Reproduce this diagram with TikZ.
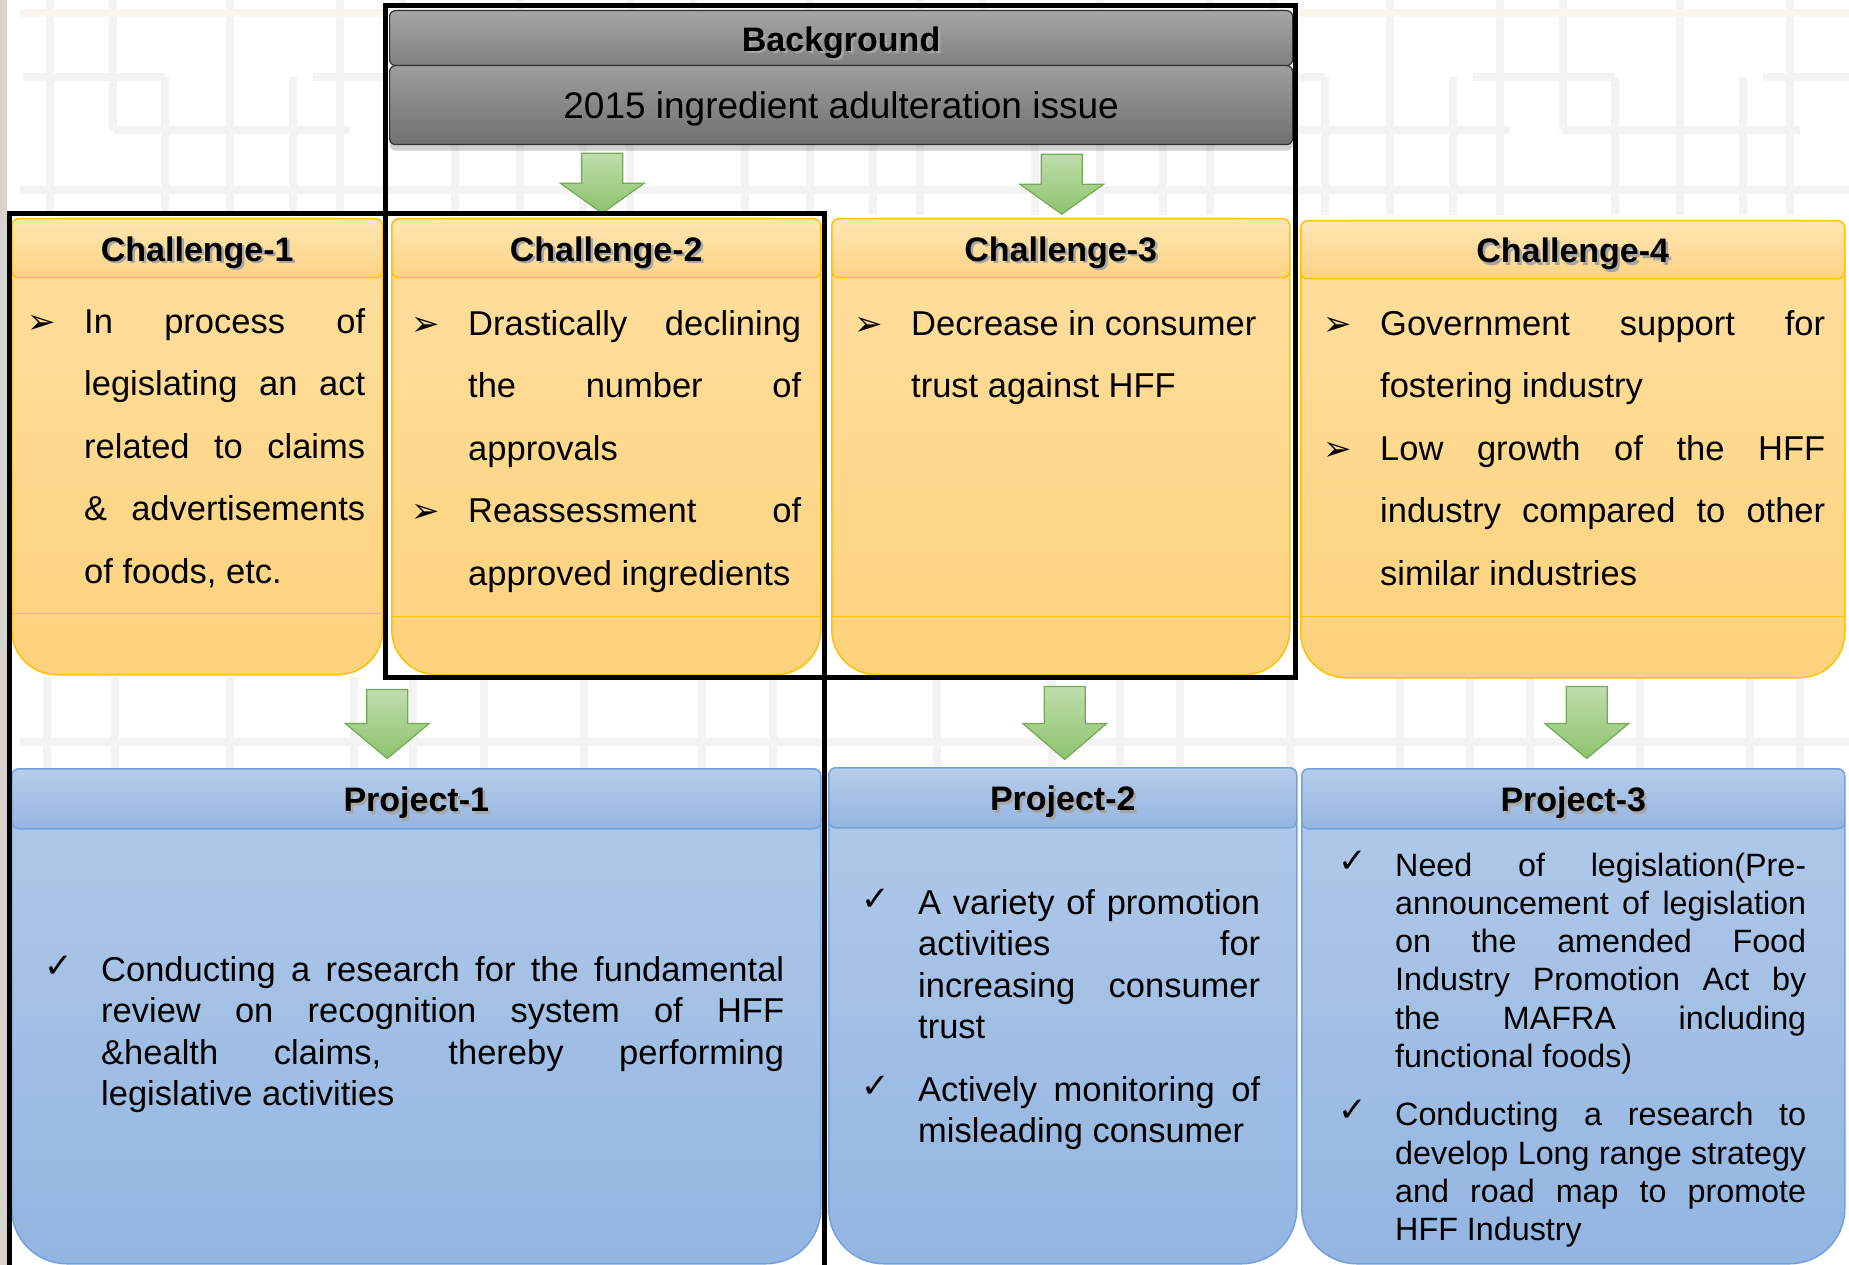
\documentclass[tikz,border=0pt]{standalone}
\usepackage{fontspec}
\setmainfont{Liberation Sans}
\newfontfamily\symfont{DejaVu Sans}
\usetikzlibrary{calc,shadows}

\definecolor{chgold}{HTML}{FFC000}
\definecolor{chtop}{HTML}{FEDFA0}
\definecolor{chbot}{HTML}{FDD27C}
\definecolor{chheadtop}{HTML}{FEE6B3}
\definecolor{chheadbot}{HTML}{FDD383}
\definecolor{prline}{HTML}{72A1DB}
\definecolor{prtop}{HTML}{B2CAE9}
\definecolor{prbot}{HTML}{93B5E1}
\definecolor{prheadtop}{HTML}{B6CDEB}
\definecolor{prheadbot}{HTML}{95B5E0}
\definecolor{bgtop}{HTML}{A6A6A6}
\definecolor{bgmid}{HTML}{808080}
\definecolor{bgbot}{HTML}{707070}
\definecolor{bgline}{HTML}{303030}
\definecolor{arrtop}{HTML}{BFDDAC}
\definecolor{arrbot}{HTML}{8CC36C}
\definecolor{arrline}{HTML}{73AA55}
\definecolor{latgray}{HTML}{F4F3F3}
\definecolor{latbeige}{HTML}{FAF6EE}
\definecolor{leftstrip}{HTML}{D6D3D0}

\newcommand{\headfont}{\fontsize{34}{40}\selectfont\bfseries}
\newcommand{\issuefont}{\fontsize{37}{44}\selectfont}
\newcommand{\chfont}{\fontsize{34.5}{62.5}\selectfont}
\newcommand{\prfont}{\fontsize{34.5}{41.5}\selectfont}
\newcommand{\prsmallfont}{\fontsize{32.3}{38.3}\selectfont}
% text with a soft offset shadow
\newcommand{\shd}[1]{\makebox[0pt][l]{\kern2.5pt\raisebox{-2.5pt}{\textcolor{black!35}{#1}}}#1}
\newcommand{\arrowmark}{{\symfont\fontsize{34}{34}\selectfont\symbol{"27A2}}}
\newcommand{\tickmark}{\raisebox{4pt}{\symfont\fontsize{34}{34}\selectfont\symbol{"2713}}}
% one bullet paragraph with hanging indent
\newcommand{\boxitem}[2]{\noindent\hangindent=57pt\hangafter=1\makebox[57pt][l]{#1}#2\par}

\begin{document}
\begin{tikzpicture}[x=1pt, y=-1pt,
    every node/.style={inner sep=0pt},
    lattice/.style={draw=latgray, line width=8pt},
    bghead/.style={draw=bgline, line width=1.2pt, rounded corners=6pt, top color=bgtop, bottom color=bgmid, anchor=north west, font=\headfont, text height=26pt, text depth=0pt},
    bgbody/.style={bghead, top color=bgtop!95!black, bottom color=bgbot, font=\issuefont},
    chbody/.style={draw=chgold, line width=1.5pt, rounded corners=45pt, top color=chtop, bottom color=chbot, anchor=north west},
    chhead/.style={draw=chgold, line width=1.5pt, rounded corners=7pt, top color=chheadtop, bottom color=chheadbot, anchor=north west, font=\headfont, text height=26pt, text depth=0pt},
    chline/.style={draw=chgold, line width=1.5pt},
    prbody/.style={chbody, draw=prline, rounded corners=55pt, top color=prtop, bottom color=prbot},
    prhead/.style={chhead, draw=prline, top color=prheadtop, bottom color=prheadbot},
    itemtext/.style={anchor=base west, text width=#1, align=justify},
    greenarrow/.style={draw=arrline, line width=1.2pt, top color=arrtop, bottom color=arrbot},
    frame/.style={draw=black, line width=5pt},
    pics/downarrow/.style 2 args={code={
      \path[greenarrow] (-20.5,0) -- (-20.5,#2) -- (-42,#2) -- (0,#1) -- (42,#2) -- (20.5,#2) -- (20.5,0) -- cycle;
    }}
  ]
  \useasboundingbox (0,0) rectangle (1849,1265);
  \fill[white] (0,0) rectangle (1849,1265);

  % faint window lattice behind everything
  \fill[leftstrip] (0,0) rectangle (7,1265);
  \foreach \o in {0,290,...,1740} {
    \draw[lattice] (\o+50,0) -- (\o+50,215) (\o+230,0) -- (\o+230,215)
      (\o+113,0) -- (\o+113,130) (\o+165,77) -- (\o+165,215) (\o+293,77) -- (\o+293,215)
      (\o+23,77) -- (\o+165,77) (\o+113,130) -- (\o+350,130);
  }
  \draw[lattice] (20,190) -- (1849,190);
  \draw[lattice, draw=latbeige] (20,13) -- (1849,13);
  \foreach \x in {47,115,230,354,413,484,584,702,773,937,1052,1120,1180,1290,1400,1470,1530,1640,1750,1800}
    \draw[lattice] (\x,677) -- (\x,768);
  \draw[lattice] (20,742) -- (1849,742);

  % background
  \node[bghead, minimum width=903pt, minimum height=55pt] (bg) at (389,10) {\shd{Background}};
  \node[bgbody, minimum width=903pt, minimum height=79pt,
        drop shadow={shadow xshift=0pt, shadow yshift=-6pt, opacity=.3, fill=black!60}] (issue) at (389,65) {2015 ingredient adulteration issue};

  % challenges
  \node[chbody, minimum width=371pt, minimum height=456pt] (c1) at (11,218) {};
  \node[chhead, minimum width=371pt, minimum height=59pt] (c1h) at (c1.north west) {\shd{Challenge-1}};
  \draw[chline] (c1.south west) ++(0,-62) -- ++(371,0);

  \node[chbody, minimum width=429pt, minimum height=456pt] (c2) at (391,218) {};
  \node[chhead, minimum width=429pt, minimum height=59pt] (c2h) at (c2.north west) {\shd{Challenge-2}};
  \draw[chline] (c2.south west) ++(0,-59) -- ++(429,0);

  \node[chbody, minimum width=458pt, minimum height=456pt] (c3) at (831,218) {};
  \node[chhead, minimum width=458pt, minimum height=59pt] (c3h) at (c3.north west) {\shd{Challenge-3}};
  \draw[chline] (c3.south west) ++(0,-59) -- ++(458,0);

  \node[chbody, minimum width=544pt, minimum height=457pt] (c4) at (1300,220) {};
  \node[chhead, minimum width=544pt, minimum height=58pt] (c4h) at (c4.north west) {\shd{Challenge-4}};
  \draw[chline] (c4.south west) ++(0,-62) -- ++(544,0);

  % projects
  \node[prbody, minimum width=809pt, minimum height=495pt] (p1) at (11,768) {};
  \node[prhead, minimum width=809pt, minimum height=60pt] (p1h) at (p1.north west) {\shd{Project-1}};
  \node[prbody, minimum width=468pt, minimum height=496pt] (p2) at (828,767) {};
  \node[prhead, minimum width=468pt, minimum height=60pt] (p2h) at (p2.north west) {\shd{Project-2}};
  \node[prbody, minimum width=543pt, minimum height=495pt] (p3) at (1301,768) {};
  \node[prhead, minimum width=543pt, minimum height=60pt] (p3h) at (p3.north west) {\shd{Project-3}};

  % arrows
  \path (c2.north |- issue.south) ++(-4,8) pic {downarrow={60}{30}};
  \path (c3.north |- issue.south) ++(1,9) pic {downarrow={60}{30}};
  \path ($(c1.south east)!.5!(c2.south west)$) ++(0,14) pic {downarrow={69}{34}};
  \path (c3.south) ++(4,11) pic {downarrow={73}{37}};
  \path (c4.south) ++(14,8) pic {downarrow={72}{37}};

  % texts
  \node[itemtext=338pt, font=\chfont] (c1txt) at (27,333) {%
    \boxitem{\arrowmark}{In process of\linebreak legislating an act\linebreak related to claims\linebreak \& advertisements\linebreak of foods, etc.}};
  \node[itemtext=390pt, font=\chfont] (c2txt) at (411,335) {%
    \boxitem{\arrowmark}{Drastically declining\linebreak the number of\linebreak approvals}
    \boxitem{\arrowmark}{Reassessment of\linebreak approved ingredients}};
  \node[itemtext=410pt, font=\chfont] (c3txt) at (854,335) {%
    \boxitem{\arrowmark}{Decrease in consumer\newline trust against HFF}};
  \node[itemtext=502pt, font=\chfont] (c4txt) at (1323,335) {%
    \boxitem{\arrowmark}{Government support for\linebreak fostering industry}
    \boxitem{\arrowmark}{Low growth of the HFF\linebreak industry compared to other\linebreak similar industries}};

  \node[itemtext=740pt, font=\prfont] (p1txt) at (44,981) {%
    \boxitem{\tickmark}{Conducting a research for the fundamental\linebreak review on recognition system of HFF\linebreak \&health claims, thereby performing\linebreak legislative activities}};
  \node[itemtext=399pt, font=\prfont] (p2txt) at (861,914) {%
    \boxitem{\tickmark}{A variety of promotion\linebreak activities for\linebreak increasing consumer\linebreak trust}
    \vspace{21pt}
    \boxitem{\tickmark}{Actively monitoring of\linebreak misleading consumer}};
  \node[itemtext=468pt, font=\prsmallfont] (p3txt) at (1338,876) {%
    \boxitem{\tickmark}{Need of legislation(Pre-\linebreak announcement of legislation\linebreak on the amended Food\linebreak Industry Promotion Act by\linebreak the MAFRA including\linebreak functional foods)}
    \vspace{20pt}
    \boxitem{\tickmark}{Conducting a research to\linebreak develop Long range strategy\linebreak and road map to promote\linebreak HFF Industry}};

  % black outlines
  \draw[frame] (385,677) -- (385,6) -- (1295,6) -- (1295,677) -- cycle;
  \draw[frame] (9,1280) -- (9,214) -- (824,214) -- (824,1280);
\end{tikzpicture}
\end{document}
